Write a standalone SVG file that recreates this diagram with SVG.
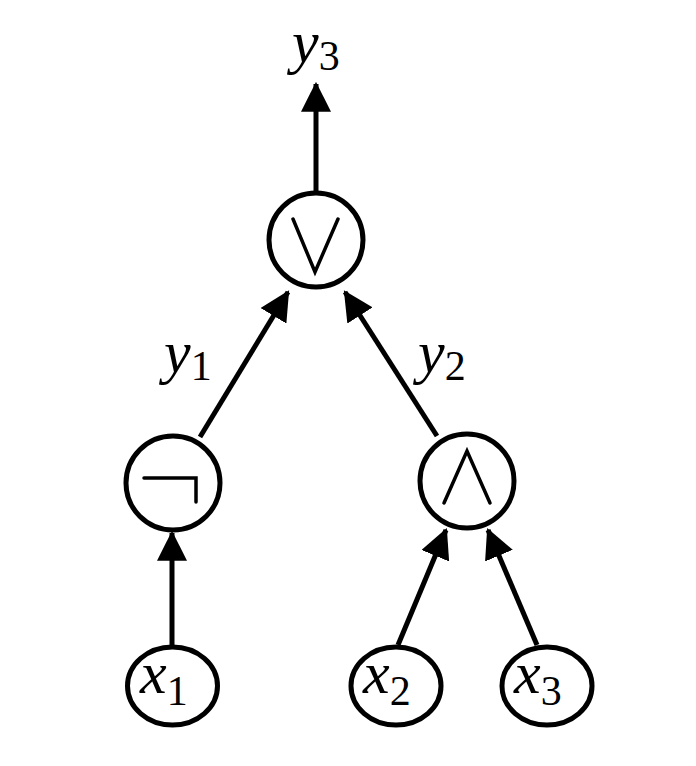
<svg xmlns="http://www.w3.org/2000/svg" width="696" height="766" viewBox="0 0 696 766">
<style>
.node{fill:#fff;stroke:#000;stroke-width:5}
.sym{fill:none;stroke:#000;stroke-width:3.5;stroke-linecap:round;stroke-linejoin:miter}
.edge{stroke:#000;stroke-width:5;fill:none}
.lbl{font-family:'Liberation Serif','Times New Roman',serif;font-style:italic;font-size:60px;fill:#000}
.sub{font-style:normal;font-size:42px}
</style>
<defs>
<marker id="ah" markerUnits="userSpaceOnUse" markerWidth="30" markerHeight="30" viewBox="0 0 28 28" refX="26" refY="14" orient="auto">
<path d="M0,0 L28,14 L0,28 z" fill="#000"/>
</marker>
</defs>
<rect width="696" height="766" fill="#fff"/>
<g id="connectors">
<line class="edge" x1="316" y1="192" x2="316" y2="84" marker-end="url(#ah)"/>
<line class="edge" x1="200" y1="437" x2="288" y2="292" marker-end="url(#ah)"/>
<line class="edge" x1="437" y1="436" x2="345" y2="292" marker-end="url(#ah)"/>
<line class="edge" x1="172" y1="645" x2="172" y2="533" marker-end="url(#ah)"/>
<line class="edge" x1="398" y1="645" x2="446" y2="530" marker-end="url(#ah)"/>
<line class="edge" x1="537" y1="645" x2="488" y2="530" marker-end="url(#ah)"/>
</g>
<g id="or">
<circle class="node" cx="316" cy="240" r="47"/>
<polyline class="sym" points="293,219 315,272 338,219"/>
</g>
<g id="not">
<circle class="node" cx="173" cy="483" r="47"/>
<polyline class="sym" points="144,478 196,478 196,502"/>
</g>
<g id="and">
<circle class="node" cx="467" cy="481" r="47"/>
<polyline class="sym" points="444,503 467,451 490,503"/>
</g>
<g id="x1">
<ellipse class="node" cx="172.5" cy="686" rx="45" ry="39"/>
<text class="lbl" x="140" y="693">x<tspan class="sub" dy="12">1</tspan></text>
</g>
<g id="x2">
<ellipse class="node" cx="396" cy="686" rx="45" ry="39"/>
<text class="lbl" x="363" y="693">x<tspan class="sub" dy="12">2</tspan></text>
</g>
<g id="x3">
<ellipse class="node" cx="547" cy="686" rx="45" ry="39"/>
<text class="lbl" x="514" y="693">x<tspan class="sub" dy="12">3</tspan></text>
</g>
<g id="y3">
<text class="lbl" x="292" y="62">y<tspan class="sub" dy="8">3</tspan></text>
</g>
<g id="y1">
<text class="lbl" x="164" y="372">y<tspan class="sub" dy="8">1</tspan></text>
</g>
<g id="y2">
<text class="lbl" x="418" y="372">y<tspan class="sub" dy="8">2</tspan></text>
</g>
</svg>
